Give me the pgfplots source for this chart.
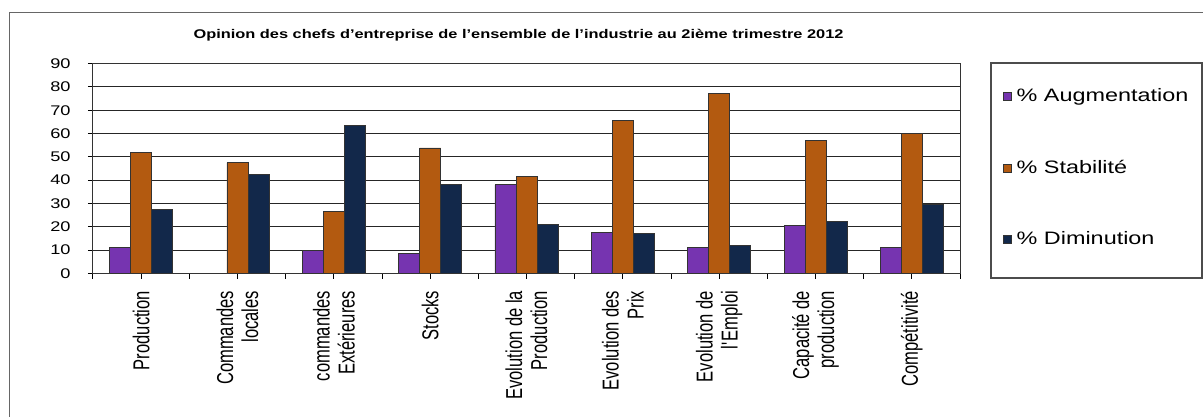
\documentclass[border=0pt]{standalone}
\usepackage{fontspec}
\setmainfont{Liberation Sans}
\newfontfamily\hfont[FakeStretch=1.3]{Liberation Sans}
\newfontfamily\rotfont[FakeStretch=0.72]{Liberation Sans}
\usepackage{pgfplots}
\usepackage{pgfplotstable}
\pgfplotsset{compat=1.18}

\definecolor{aug}{HTML}{7634B0}
\definecolor{stab}{HTML}{B35A10}
\definecolor{dimi}{HTML}{12284A}

% one reference pixel = 0.5pt
\pgfplotstableread{
x aug  stab dim
0 11   52   27.5
1 0    47.5 42.5
2 10   26.5 63.5
3 8.5  53.8 38
4 38   41.5 21
5 17.5 65.5 17
6 11   77   12
7 20.5 57   22.5
8 11   60   29.7
}\datatable

\begin{document}
\begin{tikzpicture}
\path[use as bounding box] (0pt,0pt) rectangle (601.5pt,208.5pt);

% outer chart frame (right and bottom sides fall outside the picture)
\draw[black!60, line width=0.8pt] (4.75pt,-2pt) -- (4.75pt,202.25pt) -- (606pt,202.25pt);

\node[anchor=base, font=\hfont\bfseries\fontsize{6.3}{7}\selectfont]
  at (259.25pt,189.15pt) {Opinion des chefs d’entreprise de l’ensemble de l’industrie au 2ième trimestre 2012};

\begin{axis}[
    at={(46.5pt,71.75pt)}, anchor=south west,
    scale only axis,
    width=433.5pt, height=105pt,
    ybar=0pt, bar width=10.5pt,
    xmin=-0.5, xmax=8.5,
    ymin=0, ymax=90,
    enlargelimits=false,
    axis line style={black!80, line width=0.5pt},
    ytick={0,10,...,90},
    yticklabels={0,10,20,30,40,50,60,70,80,90},
    ymajorgrids,
    grid style={black!85, line width=0.55pt},
    xtick={0,...,8},
    minor xtick={-0.5,0.5,...,8.5},
    xticklabels={Production, {Commandes\\locales}, {commandes\\Extérieures}, Stocks,
      {Evolution de la\\Production}, {Evolution des\\Prix}, {Evolution de\\l\textquotesingle Emploi},
      {Capacité de\\production}, Compétitivité},
    tick align=outside,
    major tick length=2.5pt, minor tick length=2.5pt,
    tick style={black, line width=0.5pt},
    xtick pos=bottom, ytick pos=left,
    yticklabel style={font=\hfont\fontsize{7}{8}\selectfont, inner sep=0pt, xshift=-8.5pt},
    xticklabel style={font=\rotfont\fontsize{11.5}{12.5}\selectfont, rotate=90, anchor=east,
      align=right, inner xsep=6pt, inner ysep=0pt},
    legend style={at={(1.049,0.893)}, anchor=north west, draw=none, fill=none,
      font=\hfont\fontsize{9}{10}\selectfont, row sep=25.7pt, inner sep=0pt,
      nodes={inner sep=1pt}, column sep=1.5pt},
    legend cell align=left,
    legend image code/.code={\draw[#1] (0pt,-2pt) rectangle (4pt,2pt);},
]
\addplot[fill=aug, draw=black!80, line width=0.4pt] table[x=x, y=aug] {\datatable};
\addplot[fill=stab, draw=black!80, line width=0.4pt] table[x=x, y=stab] {\datatable};
\addplot[fill=dimi, draw=black!80, line width=0.4pt] table[x=x, y=dim] {\datatable};
\legend{\% Augmentation, \% Stabilité, \% Diminution}
\end{axis}

% legend frame
\draw[black!70, line width=0.75pt] (495.5pt,177pt) rectangle (601pt,69.5pt);
\end{tikzpicture}
\end{document}
